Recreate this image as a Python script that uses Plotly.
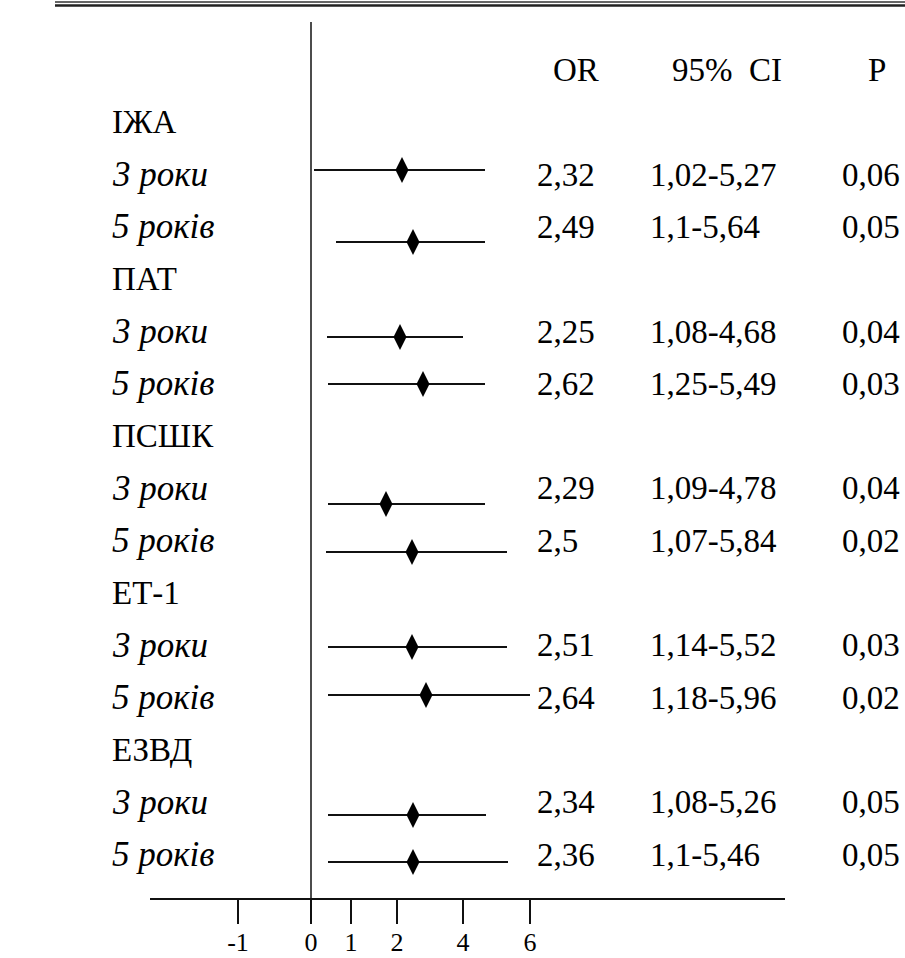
import plotly.graph_objects as go

# ---------------- data ----------------
groups = ["ІЖА", "ПАТ", "ПСШК", "ЕТ-1", "ЕЗВД"]
periods = ["3 роки", "5 років"]
header = ["OR", "95%\u00a0 CI", "P"]

or_vals = [2.32, 2.49, 2.25, 2.62, 2.29, 2.5, 2.51, 2.64, 2.34, 2.36]
ci_low = [1.02, 1.1, 1.08, 1.25, 1.09, 1.07, 1.14, 1.18, 1.08, 1.1]
ci_high = [5.27, 5.64, 4.68, 5.49, 4.78, 5.84, 5.52, 5.96, 5.26, 5.46]
p_vals = [0.06, 0.05, 0.04, 0.03, 0.04, 0.02, 0.03, 0.02, 0.05, 0.05]

# positions of the marks as drawn in the picture, read against the drawn axis
# (axis units: 0 -> 1 spacing of the printed scale = 1 unit)
marker_drawn = [2.275, 2.55, 2.225, 2.8, 1.875, 2.525, 2.525, 2.875, 2.55, 2.55]
whisker_lo_drawn = [0.075, 0.625, 0.4, 0.425, 0.425, 0.375, 0.425, 0.425, 0.425, 0.425]
whisker_hi_drawn = [4.35, 4.35, 3.8, 4.35, 4.35, 4.9, 4.9, 5.475, 4.375, 4.925]

tick_labels = ["-1", "0", "1", "2", "4", "6"]
tick_drawn = [-1.825, 0.0, 1.0, 2.15, 3.8, 5.475]

# ---------------- layout / style ----------------
W, H = 905, 958
FONT = "'Liberation Serif', 'Times New Roman', Times, serif"
INK = "#000000"
ROW_PX0, ROW_PX = 70.0, 52.3          # pixel of row 0 and row pitch
# small vertical shifts of the hand-drawn whiskers (in pixels)
whisker_shift_px = [-4.6, 15.1, 5.5, 0.2, 15.6, 11.3, 1.7, -2.6, 12.8, 7.5]

def fmt(v):
    return str(v).replace(".", ",")

n = len(or_vals)
item_rows = [2 + 3 * (k // 2) + (k % 2) for k in range(n)]
wy = [item_rows[k] + whisker_shift_px[k] / ROW_PX for k in range(n)]

fig = go.Figure()

# whiskers
xs, ys = [], []
for k in range(n):
    xs += [whisker_lo_drawn[k], whisker_hi_drawn[k], None]
    ys += [wy[k], wy[k], None]
fig.add_trace(go.Scatter(x=xs, y=ys, mode="lines",
                         line=dict(color="#111111", width=2), hoverinfo="skip",
                         showlegend=False, cliponaxis=False))
# diamonds
fig.add_trace(go.Scatter(x=marker_drawn, y=wy, mode="markers",
                         marker=dict(symbol="diamond-tall", size=18.6, color=INK,
                                     line=dict(width=0)),
                         showlegend=False, cliponaxis=False))

ann = []
def add_text(txt, xpx, row, size=33):
    ann.append(dict(text=txt, x=xpx / W, xref="paper", y=row, yref="y",
                    xanchor="left", yanchor="middle", showarrow=False,
                    font=dict(family=FONT, size=size, color=INK)))

# header
for txt, xpx in zip(header, [551, 670, 866]):
    add_text(txt, xpx, 0)

# row labels
for g, name in enumerate(groups):
    add_text(name, 110, 1 + 3 * g)
    for j, per in enumerate(periods):
        add_text("<i>" + per + "</i>", 110, 2 + 3 * g + j, size=35)

# table values
for k in range(n):
    r = item_rows[k]
    add_text(fmt(or_vals[k]), 535, r)
    add_text(fmt(ci_low[k]) + "-" + fmt(ci_high[k]), 648, r)
    add_text(fmt(p_vals[k]), 840, r)

shapes = [
    # vertical reference line at 0
    dict(type="line", xref="x", x0=0, x1=0, yref="paper",
         y0=1 - 922 / H, y1=1 - 22 / H, line=dict(color="#111111", width=1.5)),
    # double rule at the top of the page
    dict(type="line", xref="paper", x0=55 / W, x1=1, yref="paper",
         y0=1 - 2 / H, y1=1 - 2 / H, line=dict(color="#666666", width=2)),
    dict(type="line", xref="paper", x0=55 / W, x1=1, yref="paper",
         y0=1 - 5.5 / H, y1=1 - 5.5 / H, line=dict(color="#222222", width=2.5)),
]

x_left_px, x_right_px, unit_px, zero_px = 150, 785, 40.0, 311
y_top_px, y_bot_px = 22, 898

fig.update_layout(
    width=W, height=H, margin=dict(l=0, r=0, t=0, b=0, autoexpand=False),
    paper_bgcolor="white", plot_bgcolor="white",
    annotations=ann, shapes=shapes, showlegend=False,
    font=dict(family=FONT, color=INK),
    xaxis=dict(domain=[x_left_px / W, x_right_px / W],
               range=[(x_left_px - zero_px) / unit_px, (x_right_px - zero_px) / unit_px],
               showgrid=False, zeroline=False, showline=True, automargin=False,
               linecolor="#111111", linewidth=1.5, ticks="outside", ticklen=24,
               tickwidth=1.5, tickcolor="#111111", tickvals=tick_drawn, ticktext=tick_labels,
               tickfont=dict(family=FONT, size=26, color=INK), ticklabelstandoff=-4,
               fixedrange=True),
    yaxis=dict(domain=[1 - y_bot_px / H, 1 - y_top_px / H],
               range=[(y_bot_px - ROW_PX0) / ROW_PX, (y_top_px - ROW_PX0) / ROW_PX],
               visible=False, automargin=False, fixedrange=True),
)

fig.write_html("out.html")
